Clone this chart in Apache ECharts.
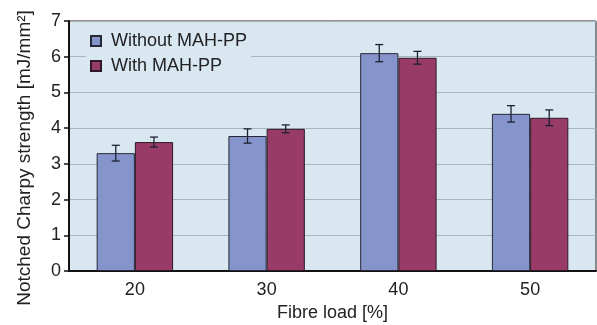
<!DOCTYPE html>
<html>
<head>
<meta charset="utf-8">
<script src="https://cdn.jsdelivr.net/npm/echarts@6/dist/echarts.min.js"></script>
<style>
	html, body { margin: 0; padding: 0; background: #fff; }
	#chart { width: 597px; height: 325px; }
</style>
</head>
<body>
<div id="chart"></div>
<script>
	var loads = ['20', '30', '40', '50'];
	var withoutMah = [3.30, 3.78, 6.10, 4.40];
	var withMah = [3.61, 3.98, 5.97, 4.29];
	var errWithout = [0.22, 0.20, 0.24, 0.23];
	var errWith = [0.14, 0.11, 0.18, 0.22];

	var gapPct = 42;
	var mychart = echarts.init(document.getElementById('chart'));

	function errorSeries(name, vals, errs, side) {
		var data = [];
		for (var i = 0; i < vals.length; i++) {
			data.push([i, vals[i] - errs[i], vals[i] + errs[i]]);
		}
		return {
			name: name,
			type: 'custom',
			z: 10,
			data: data,
			encode: { x: 0, y: [1, 2] },
			renderItem: function(params, api) {
				var cat = api.value(0);
				var catW = api.size([1, 0])[0];
				var barW = catW * (1 - gapPct / 100) / 2;
				var lo = api.coord([cat, api.value(1)]);
				var hi = api.coord([cat, api.value(2)]);
				var x = lo[0] + side * barW / 2;
				var cap = 4;
				var st = { stroke: '#1d2233', lineWidth: 1.3 };
				return {
					type: 'group',
					children: [
						{ type: 'line', shape: { x1: x, y1: lo[1], x2: x, y2: hi[1] }, style: st },
						{ type: 'line', shape: { x1: x - cap, y1: lo[1], x2: x + cap, y2: lo[1] }, style: st },
						{ type: 'line', shape: { x1: x - cap, y1: hi[1], x2: x + cap, y2: hi[1] }, style: st }
					]
				};
			}
		};
	}

	var option = {
		animation: false,
		textStyle: { fontFamily: 'Liberation Sans, Arial, sans-serif' },
		grid: {
			left: 69, right: 1, top: 21, bottom: 54,
			outerBoundsMode: 'none',
			containLabel: false,
			show: true,
			backgroundColor: '#d8e7f0',
			borderColor: '#222',
			borderWidth: 1
		},
		legend: {
			orient: 'vertical',
			left: 86,
			top: 28,
			icon: 'rect',
			itemWidth: 10,
			itemHeight: 10,
			itemGap: 7,
			padding: [4, 4, 4, 4],
			backgroundColor: '#d8e7f0',
			data: ['Without MAH-PP', 'With MAH-PP'],
			textStyle: { fontSize: 18, color: '#222', padding: [0, 0, 0, 5], fontFamily: 'Liberation Sans, Arial, sans-serif' }
		},
		xAxis: {
			type: 'category',
			data: loads,
			name: 'Fibre load [%]',
			nameLocation: 'middle',
			nameGap: 33,
			nameTextStyle: { fontSize: 18, color: '#222' },
			axisLine: { lineStyle: { color: '#111', width: 2 } },
			axisTick: { show: false },
			axisLabel: { fontSize: 18, color: '#222', margin: 10 }
		},
		yAxis: {
			type: 'value',
			min: 0,
			max: 7,
			interval: 1,
			name: 'Notched Charpy strength [mJ/mm²]',
			nameLocation: 'middle',
			nameGap: 35,
			nameTextStyle: { fontSize: 19, color: '#222', padding: [0, 24, 0, 0] },
			axisLine: { show: true, lineStyle: { color: '#111', width: 2 } },
			axisTick: { show: true, length: 5, lineStyle: { color: '#111', width: 1.5 } },
			axisLabel: { fontSize: 18, color: '#222', margin: 8 },
			splitLine: { lineStyle: { color: '#a9b4bc', width: 1 } }
		},
		series: [
			{
				name: 'Without MAH-PP',
				type: 'bar',
				data: withoutMah,
				barGap: '0%',
				barCategoryGap: gapPct + '%',
				itemStyle: { color: '#8594cb', borderColor: '#262838', borderWidth: 1 }
			},
			{
				name: 'With MAH-PP',
				type: 'bar',
				data: withMah,
				itemStyle: { color: '#983b66', borderColor: '#2e1a26', borderWidth: 1 }
			},
			errorSeries('errWithout', withoutMah, errWithout, -1),
			errorSeries('errWith', withMah, errWith, 1)
		]
	};
	mychart.setOption(option);
</script>
</body>
</html>
